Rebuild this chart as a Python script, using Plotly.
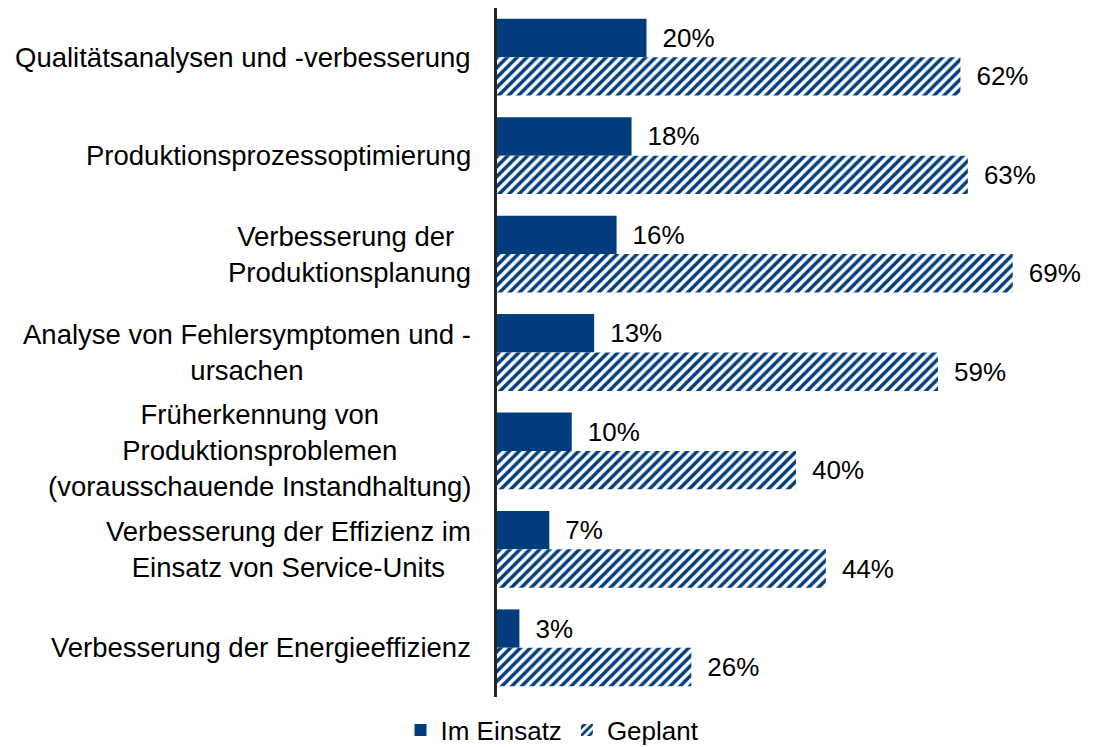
import plotly.graph_objects as go

categories = [
    "Qualitätsanalysen und -verbesserung",
    "Produktionsprozessoptimierung",
    "Verbesserung der <br>Produktionsplanung",
    "Analyse von Fehlersymptomen und -<br>ursachen",
    "Früherkennung von<br>Produktionsproblemen<br>(vorausschauende Instandhaltung)",
    "Verbesserung der Effizienz im<br>Einsatz von Service-Units",
    "Verbesserung der Energieeffizienz",
]
im_einsatz = [20, 18, 16, 13, 10, 7, 3]
geplant = [62, 63, 69, 59, 40, 44, 26]

FONT = "Liberation Sans, Arial, sans-serif"
BLUE = "#013C7C"
pad = "\u2002"

fig = go.Figure()
fig.add_trace(go.Bar(
    y=list(range(len(categories))), x=im_einsatz, orientation="h", name="Im Einsatz",
    marker=dict(color=BLUE, line=dict(width=0)),
    text=[f"{pad}{v}%" for v in im_einsatz], textposition="outside",
    textfont=dict(family=FONT, size=26, color="#000"), cliponaxis=False,
))
fig.add_trace(go.Bar(
    y=list(range(len(categories))), x=geplant, orientation="h", name="Geplant",
    marker=dict(color="white", line=dict(width=0),
                pattern=dict(shape="/", fgcolor=BLUE, bgcolor="white", size=7,
                             solidity=0.5, fgopacity=1)),
    text=[f"{pad}{v}%" for v in geplant], textposition="outside",
    textfont=dict(family=FONT, size=26, color="#000"), cliponaxis=False,
))

for i, c in enumerate(categories):
    fig.add_annotation(x=0, y=i, xref="x", yref="y", text=c, showarrow=False,
                       xanchor="right", yanchor="middle", align="center", xshift=-24,
                       font=dict(family=FONT, size=27.5, color="#000"))

fig.update_layout(
    width=1089, height=739,
    margin=dict(l=489, r=17, t=0, b=50),
    paper_bgcolor="white", plot_bgcolor="white",
    barmode="group", bargap=0.22, bargroupgap=0,
    font=dict(family=FONT, size=26, color="#000"),
    showlegend=True,
    legend=dict(orientation="h", xref="container", yref="container", x=0.5, xanchor="center",
                y=1 - 722 / 739, yanchor="middle", font=dict(family=FONT, size=26),
                traceorder="normal"),
    xaxis=dict(range=[0, 78], showgrid=False, showticklabels=False, zeroline=False,
               showline=False, ticks=""),
    yaxis=dict(autorange="reversed", showgrid=False, showticklabels=False, zeroline=False,
               showline=True, linecolor="#262626", linewidth=3, ticks=""),
)
fig.write_html("out.html")
